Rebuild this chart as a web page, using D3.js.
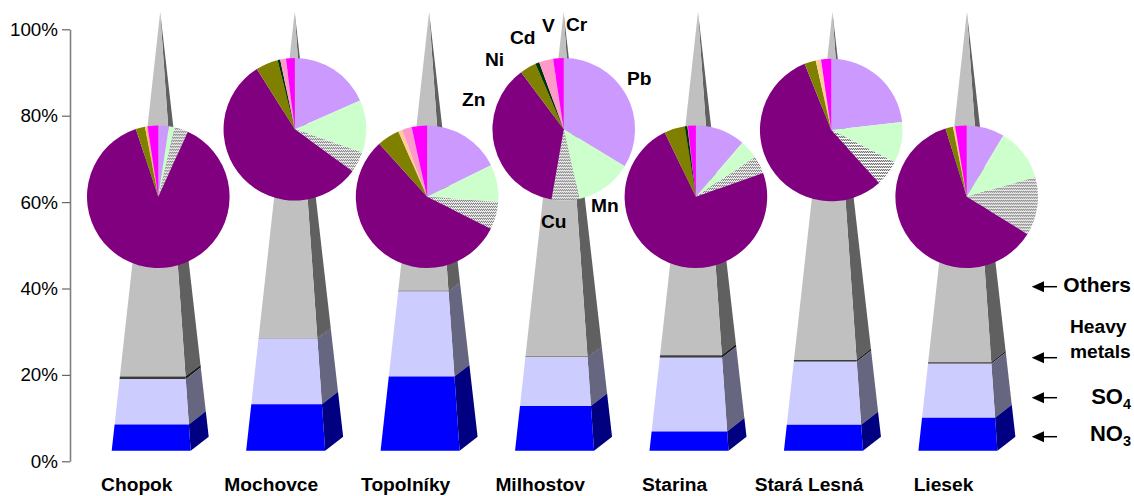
<!DOCTYPE html>
<html>
<head>
<meta charset="utf-8">
<script src="https://cdn.jsdelivr.net/npm/d3@7/dist/d3.min.js"></script>
<style>
  html, body { margin: 0; padding: 0; background: #fff; }
  svg { display: block; }
  text { font-family: "Liberation Sans", Arial, sans-serif; fill: #000; }
</style>
</head>
<body>
<svg id="chart" width="1134" height="496"></svg>
<script>
// Stations along the horizontal axis
const stations = ["Chopok", "Mochovce", "Topolníky", "Milhostov", "Starina", "Stará Lesná", "Liesek"];

// Share of total mass per station, %, stacked bottom to top in each pyramid
const no3    = [6.0, 10.6, 16.9, 10.2, 4.4, 5.9, 7.5];
const so4    = [10.3, 14.95, 19.4, 11.1, 16.8, 14.4, 12.3];
const metals = [0.6, 0.15, 0.15, 0.2, 0.55, 0.4, 0.35];
const others = [83.1, 74.3, 63.55, 78.5, 78.25, 79.3, 79.85];

// Composition of the heavy metal fraction per station, %
const pb = [2.4, 18.4, 17.7, 33.7, 11.3, 23.2, 8.6];
const mn = [1.35, 11.9, 8.5, 12.8, 4.3, 9.3, 12];
const cu = [3.05, 4.7, 6.2, 6.25, 4, 5.8, 13.2];
const zn = [88.1, 56.05, 55.9, 37.05, 73.2, 55.6, 61.4];
const ni = [2.1, 5.05, 5.1, 3.7, 4.7, 2.6, 1.7];
const cd = [0.3, 0.6, 0.9, 0.9, 0.6, 1.2, 0.5];
const v  = [0.3, 1.3, 2.2, 3.2, 0.1, 0, 0];
const cr = [2.4, 2.0, 3.5, 2.4, 1.8, 2.3, 2.6];

const yTicks = [0, 20, 40, 60, 80, 100];

// Pie slice and pyramid face colours
const metalSeries = [pb, mn, cu, zn, ni, cd, v, cr];
const cdColours = ["#FFCC33", "#003300", "#FFCC99", "#003300", "#003300", "#FFCC99", "#FFCC99"];
const sliceColours = ["#CC99FF", "#CCFFCC", "url(#hatch)", "#800080", "#808000", null, "#FF99CC", "#FF00FF"];
const bandFront = ["#C0C0C0", "#3A3A3A", "#CCCCFF", "#0000FF"];
const bandSide  = ["#606060", "#1A1A1A", "#666680", "#000080"];

const svg = d3.select("#chart");

// Fine zigzag fill used for copper
const hatch = svg.append("defs").append("pattern")
  .attr("id", "hatch").attr("patternUnits", "userSpaceOnUse")
  .attr("width", 2).attr("height", 3);
hatch.append("rect").attr("width", 2).attr("height", 3).attr("fill", "#fff");
hatch.append("rect").attr("width", 1).attr("height", 1).attr("fill", "#444");
hatch.append("rect").attr("x", 1).attr("y", 1).attr("width", 1).attr("height", 1).attr("fill", "#444");

// Scales: wall axis, height along a pyramid's centre line, and station positions
const axisY = d3.scaleLinear().domain([0, 100]).range([461.3, 29.3]);
const coreY = d3.scaleLinear().domain([0, 100]).range([443.7, 12]);
const taper = d3.scaleLinear().domain([0, 100]).range([1, 0]);
const coreX = d3.scalePoint().domain(stations).range([160.2, 966.9]);
const labelX = d3.scalePoint().domain(stations).range([136.8, 943.5]);

// Floor corners relative to the pyramid's centre
const frontLeft  = [-48.5, 7];
const frontRight = [30.5, 7];
const backRight  = [48.5, -7];

const corner = (name, offset, level) => {
  const k = taper(level);
  return [coreX(name) + offset[0] * k, coreY(level) + offset[1] * k];
};
const quad = d3.line();

// Pyramids
stations.forEach((name, i) => {
  const g = svg.append("g").attr("class", "pyramid");
  const stack = [no3[i], so4[i], metals[i], others[i]];
  let base = 0;
  const bands = stack.map(val => {
    const band = [base, base + val];
    base += val;
    return band;
  }).reverse();
  bands.forEach((band, b) => {
    const [lo, hi] = [band[0], Math.min(band[1], 100)];
    g.append("path")
      .attr("fill", bandSide[b])
      .attr("d", quad([corner(name, frontRight, lo), corner(name, backRight, lo),
                       corner(name, backRight, hi), corner(name, frontRight, hi)]) + "Z");
    g.append("path")
      .attr("fill", bandFront[b])
      .attr("d", quad([corner(name, frontLeft, lo), corner(name, frontRight, lo),
                       corner(name, frontRight, hi), corner(name, frontLeft, hi)]) + "Z");
  });
});

// Pies: the raised ones alternate with the lower row
const pieRadius = 71.3;
const pieRow = [196.7, 129.3, 196.7, 129.3, 196.7, 130, 196.7];
const pieNudge = [-1.9, 0.2, -2, 0.2, -2.1, -1.2, -0.2];
const pie = d3.pie().sort(null);
const arc = d3.arc().innerRadius(0).outerRadius(pieRadius);

stations.forEach((name, i) => {
  const shares = metalSeries.map(s => s[i]);
  svg.append("g")
    .attr("class", "pie")
    .attr("transform", `translate(${coreX(name) + pieNudge[i]},${pieRow[i]})`)
    .selectAll("path")
    .data(pie(shares))
    .join("path")
    .attr("d", arc)
    .attr("fill", (d, j) => sliceColours[j] || cdColours[i]);
});

// Percentage axis
const yAxis = svg.append("g")
  .attr("transform", "translate(70,0)")
  .call(d3.axisLeft(axisY).tickValues(yTicks).tickFormat(d => d + "%").tickSize(8).tickSizeOuter(0).tickPadding(4));
yAxis.attr("font-family", null);
yAxis.select(".domain").attr("stroke", "#808080").attr("stroke-width", 1.6);
yAxis.selectAll(".tick line").attr("stroke", "#666").attr("stroke-width", 1.2);
yAxis.selectAll("text").attr("font-size", 18.8).attr("fill", "#000");

const bold = (x, y, str, anchor = "start", size = 19.2) => svg.append("text")
  .attr("x", x).attr("y", y).attr("text-anchor", anchor)
  .attr("font-size", size).attr("font-weight", "bold").text(str);

// Station names
stations.forEach(name => bold(labelX(name), 491, name, "middle"));

// Metal names around one pie
const metalNames = ["Pb", "Mn", "Cu", "Zn", "Ni", "Cd", "V", "Cr"];
const metalLabelAt = [[627, 85], [591, 212], [541, 228], [462, 106], [485, 66], [510, 44], [542, 32], [566, 31]];
metalNames.forEach((m, i) => bold(metalLabelAt[i][0], metalLabelAt[i][1], m));

// Fraction key with arrows on the right
const arrowRows = [286.7, 357.7, 397.7, 436.7];
const key = svg.append("g").attr("class", "key");
arrowRows.forEach(y => {
  key.append("line").attr("x1", 1040).attr("x2", 1057).attr("y1", y).attr("y2", y)
    .attr("stroke", "#000").attr("stroke-width", 1.5);
  key.append("path")
    .attr("d", d3.line()([[1031.7, y], [1044, y - 5.5], [1044, y + 5.5]]) + "Z")
    .attr("fill", "#000");
});
bold(1131, 291.7, "Others", "end", 21);
bold(1070, 333.3, "Heavy");
bold(1070, 358.3, "metals");

const withSubscript = (y, main, sub) => {
  const t = bold(1131, y, main, "end", 22);
  t.append("tspan").attr("dy", 5).attr("font-size", 14.5).text(sub);
};
withSubscript(404.3, "SO", "4");
withSubscript(440.7, "NO", "3");
</script>
</body>
</html>
